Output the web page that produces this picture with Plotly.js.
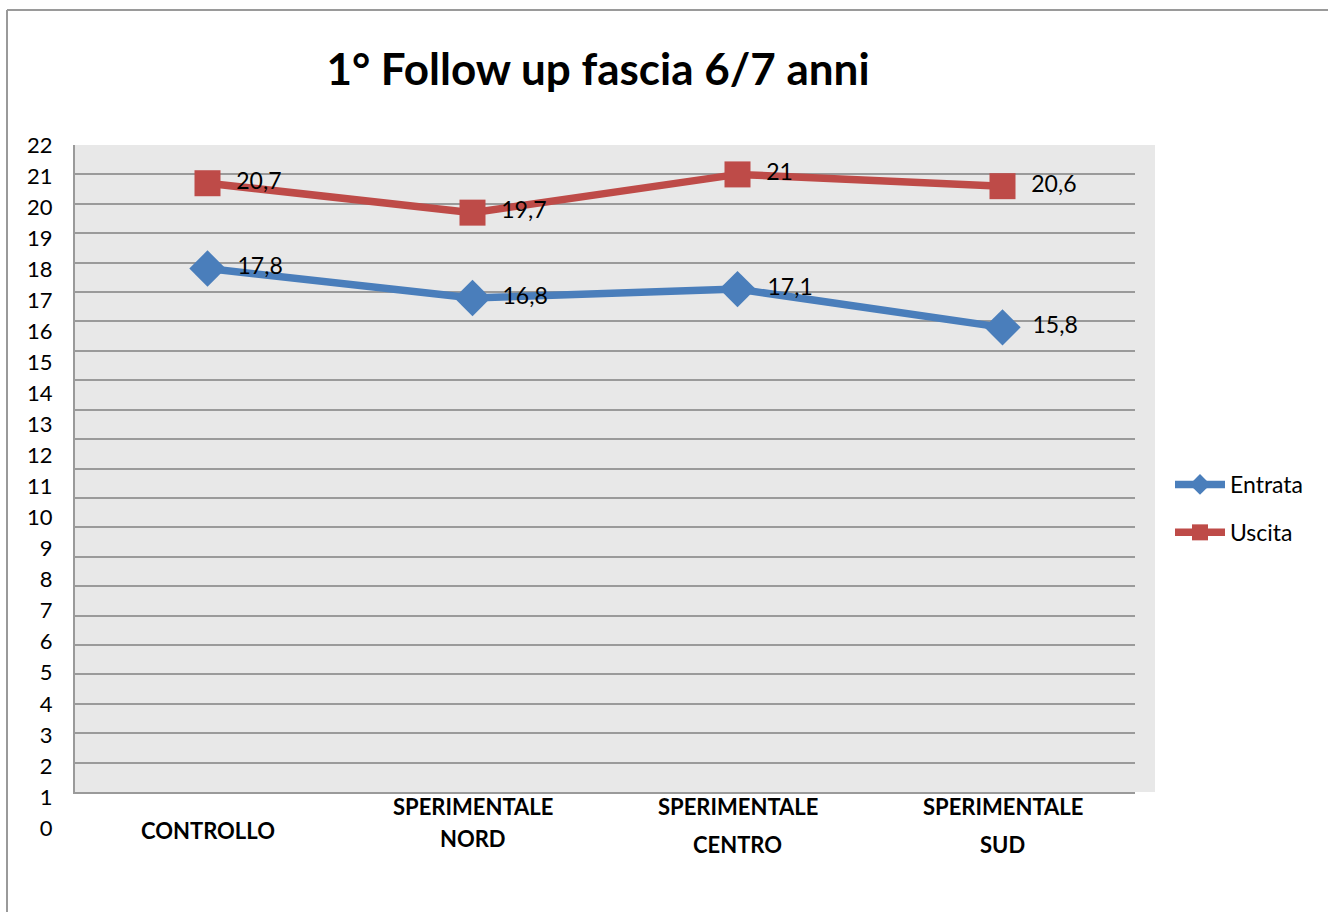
<!DOCTYPE html>
<html>
<head>
<meta charset="utf-8">
<script src="https://cdn.plot.ly/plotly-3.0.1.min.js"></script>
<style>html,body{margin:0;padding:0;background:#fff;}#chart{width:1328px;height:912px;}</style>
</head>
<body>
<div id="chart"></div>
<script>
const categories = ['CONTROLLO', 'SPERIMENTALE NORD', 'SPERIMENTALE CENTRO', 'SPERIMENTALE SUD'];
const labelLine1 = ['', 'SPERIMENTALE', 'SPERIMENTALE', 'SPERIMENTALE'];
const labelLine2 = ['CONTROLLO', 'NORD', 'CENTRO', 'SUD'];
const entrata = [17.8, 16.8, 17.1, 15.8];
const uscita = [20.7, 19.7, 21, 20.6];
const yTicks = [0,1,2,3,4,5,6,7,8,9,10,11,12,13,14,15,16,17,18,19,20,21,22];

const FONT = 'Lato, "Open Sans", sans-serif';
const W = 1328, H = 912;
const L = 75, R = 1135, T = 145, B = 845;        // paper area in px
const plotBottom = 792, labelZero = 828;
const pw = R - L, ph = B - T;
const py = v => (B - v) / ph;   // px -> paper y
const px = v => (v - L) / pw;   // px -> paper x
const fmt = v => '\u2002' + v.toString().replace('.', ',');

const traces = [
  {
    x: categories, y: entrata, name: 'Entrata', type: 'scatter', mode: 'lines+markers+text',
    legendgroup: 'a',
    line: {color: '#4A7EBB', width: 7.5},
    marker: {symbol: 'diamond', size: 28, color: '#4A7EBB'},
    text: entrata.map(fmt),
    textposition: 'middle right',
    textfont: {family: FONT, size: 23, color: '#000'},
    hoverinfo: 'skip'
  },
  {
    x: categories, y: uscita, name: 'Uscita', type: 'scatter', mode: 'lines+markers+text',
    legendgroup: 'b',
    line: {color: '#BE4B48', width: 7.5},
    marker: {symbol: 'square', size: 26, color: '#BE4B48'},
    text: uscita.map(fmt),
    textposition: 'middle right',
    textfont: {family: FONT, size: 23, color: '#000'},
    hoverinfo: 'skip'
  },
  { x: [], y: [], yaxis: 'y2', type: 'scatter', showlegend: false, hoverinfo: 'skip' }
];

const annotations = [];
categories.forEach((c, i) => {
  if (labelLine1[i]) {
    annotations.push({x: c, xref: 'x', y: py(806), yref: 'paper', yanchor: 'middle', text: '<b>' + labelLine1[i] + '</b>', showarrow: false, font: {family: FONT, size: 22, color: '#000'}});
    annotations.push({x: c, xref: 'x', y: py(i === 1 ? 838 : 844), yref: 'paper', yanchor: 'middle', text: '<b>' + labelLine2[i] + '</b>', showarrow: false, font: {family: FONT, size: 22, color: '#000'}});
  } else {
    annotations.push({x: c, xref: 'x', y: py(830), yref: 'paper', yanchor: 'middle', text: '<b>' + labelLine2[i] + '</b>', showarrow: false, font: {family: FONT, size: 22, color: '#000'}});
  }
});

const layout = {
  width: W, height: H,
  margin: {l: L, r: W - R, t: T, b: H - B, pad: 0},
  paper_bgcolor: '#ffffff',
  plot_bgcolor: 'rgba(0,0,0,0)',
  font: {family: FONT, size: 22, color: '#000'},
  title: {text: '<b>1° Follow up fascia 6/7 anni</b>', font: {family: FONT, size: 44, color: '#000'}, x: 598 / W, xanchor: 'center', y: 1 - 70 / H, yanchor: 'middle'},
  showlegend: true,
  legend: {x: px(1170), xanchor: 'left', y: py(463), yanchor: 'top', itemwidth: 50, font: {family: FONT, size: 23, color: '#000'}, tracegroupgap: 15, bgcolor: 'rgba(0,0,0,0)'},
  xaxis: {type: 'category', categoryarray: categories, range: [-0.5, 3.5], showticklabels: false, ticks: '', showgrid: false, showline: true, linecolor: '#9A9A9A', linewidth: 2, zeroline: false, fixedrange: true},
  yaxis: {domain: [(B - plotBottom) / ph, 1], range: [0, 22.0001], tickvals: yTicks, showticklabels: false, ticks: '', showgrid: true, gridcolor: '#9A9A9A', gridwidth: 2, showline: true, linecolor: '#9A9A9A', linewidth: 2, zeroline: false, fixedrange: true},
  yaxis2: {domain: [(B - labelZero) / ph, 1], range: [0, 22], anchor: 'free', position: 0, side: 'left', tickvals: yTicks, ticktext: yTicks.map(String), showgrid: false, showline: false, zeroline: false, ticks: 'outside', ticklen: 18, tickcolor: 'rgba(0,0,0,0)', tickfont: {family: FONT, size: 22, color: '#000'}, fixedrange: true},
  shapes: [
    {type: 'rect', xref: 'paper', yref: 'paper', x0: 0, x1: px(1155), y0: py(plotBottom), y1: 1, fillcolor: '#E8E8E8', line: {width: 0}, layer: 'below'},
    {type: 'line', xref: 'paper', yref: 'paper', x0: px(7), x1: px(7), y0: py(10), y1: py(915), line: {color: '#9A9A9A', width: 2}},
    {type: 'line', xref: 'paper', yref: 'paper', x0: px(7), x1: px(1330), y0: py(10), y1: py(10), line: {color: '#9A9A9A', width: 2}}
  ],
  annotations: annotations
};

Plotly.newPlot('chart', traces, layout, {displayModeBar: false, staticPlot: true});
</script>
</body>
</html>
